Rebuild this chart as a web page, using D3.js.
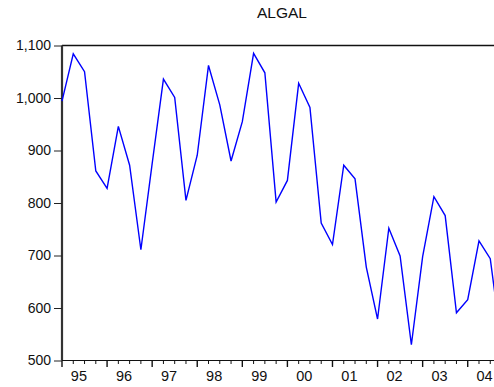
<!DOCTYPE html>
<html>
<head>
<meta charset="utf-8">
<script src="https://cdn.jsdelivr.net/npm/d3@7"></script>
<style>
  body { margin: 0; background: #fff; }
  svg { display: block; font-family: "Liberation Sans", Arial, sans-serif; }
</style>
</head>
<body>
<svg id="chart" width="494" height="387"></svg>
<script>
// quarterly series 1995Q1 - 2004Q4
var title = "ALGAL";
var yearLabels = ["95", "96", "97", "98", "99", "00", "01", "02", "03", "04"];
var algal = [
  994, 1084, 1050, 861,
  828, 946, 872, 711,
  875, 1036, 1001, 805,
  891, 1062, 987, 880,
  955, 1085, 1048, 802,
  843, 1028, 982, 762,
  721, 872, 846, 678,
  579, 752, 699, 530,
  698, 812, 776, 591,
  616, 728, 694, 530
];
var yTicks = [500, 600, 700, 800, 900, 1000, 1100];

var svg = d3.select("#chart");
// plot box (note: "top" is taken by window.top, so use other names)
var plotLeft = 62, plotTop = 45.5, plotBottom = 360.5;
var qw = 11.27;

var x = d3.scaleLinear().domain([0, 40]).range([plotLeft, plotLeft + 40 * qw]);
var y = d3.scaleLinear().domain([500, 1100]).range([plotBottom, plotTop]);

// title
svg.append("text")
    .attr("x", 282).attr("y", 18)
    .attr("text-anchor", "middle")
    .attr("font-size", 15.5)
    .attr("fill", "#111")
    .text(title);

// top frame line
svg.append("line")
    .attr("x1", plotLeft).attr("x2", 494)
    .attr("y1", plotTop).attr("y2", plotTop)
    .attr("stroke", "#111").attr("stroke-width", 1.6);

// y axis
var yAxis = svg.append("g")
    .attr("transform", "translate(" + plotLeft + ",0)")
    .call(d3.axisLeft(y).tickValues(yTicks).tickSize(8).tickPadding(3)
      .tickFormat(d3.format(",")));
yAxis.select(".domain").attr("stroke", "#333").attr("stroke-width", 2.2)
    .attr("d", "M0," + plotTop + "V" + plotBottom);
yAxis.selectAll(".tick line").attr("stroke", "#222");
yAxis.selectAll("text").attr("font-size", 14).attr("fill", "#111")
    .attr("font-family", "Liberation Sans, Arial, sans-serif");

// x axis: quarter ticks, year ticks longer
var xg = svg.append("g");
xg.append("line")
    .attr("x1", plotLeft).attr("x2", 494)
    .attr("y1", plotBottom).attr("y2", plotBottom)
    .attr("stroke", "#111").attr("stroke-width", 1.2);
xg.selectAll("line.q")
    .data(d3.range(0, 41))
    .enter().append("line")
    .attr("class", "q")
    .attr("x1", function(d) { return x(d); })
    .attr("x2", function(d) { return x(d); })
    .attr("y1", plotBottom)
    .attr("y2", function(d) { return d % 4 == 0 ? plotBottom + 6.5 : plotBottom + 3.5; })
    .attr("stroke", "#111").attr("stroke-width", function(d) { return d % 4 == 0 ? 1.4 : 1; });
xg.selectAll("text")
    .data(yearLabels)
    .enter().append("text")
    .attr("x", function(d, i) { return x(i * 4 + 1.5); })
    .attr("y", 381)
    .attr("text-anchor", "middle")
    .attr("font-size", 14.5)
    .attr("fill", "#111")
    .text(function(d) { return d; });

// the series
var line = d3.line()
    .x(function(d, i) { return x(i); })
    .y(function(d) { return y(d); });

svg.append("path")
    .datum(algal)
    .attr("d", line)
    .attr("fill", "none")
    .attr("stroke", "#0000ff")
    .attr("stroke-width", 1.4);
</script>
</body>
</html>
